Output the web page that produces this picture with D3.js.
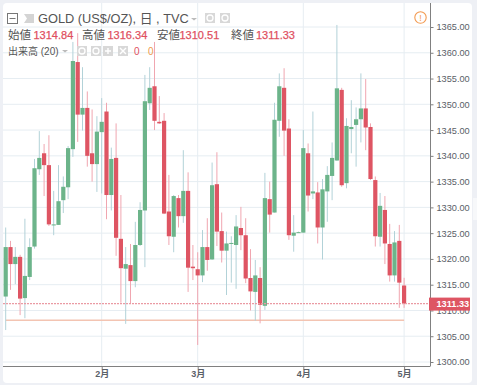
<!DOCTYPE html>
<html>
<head>
<meta charset="utf-8">
<script src="https://cdn.jsdelivr.net/npm/d3@7"></script>
<style>
  html, body { margin: 0; padding: 0; background: #eef0f5; }
  svg { display: block; }
  text { font-family: "Liberation Sans", Arial, "Noto Sans CJK JP", sans-serif; }
</style>
</head>
<body>
<svg id="chart"></svg>
<script>
// daily candles
const opens = [1312.7,1322.3,1319,1320.4,1312.4,1316.5,1322.4,1337.4,1340.5,1338.2,1326.5,1326.6,1331.4,1333.9,1341.3,1358.2,1348,1349.3,1340.5,1338.4,1344.6,1348.6,1332.4,1339.6,1323.9,1318.1,1318.8,1315.7,1322.7,1329.4,1350.2,1353.5,1346.6,1346.8,1329.2,1324.3,1331.8,1328.3,1333.2,1318.5,1318,1316.8,1322.3,1319.9,1334.5,1325.4,1321.6,1322.9,1322.7,1326,1324.6,1316.3,1313.6,1316.3,1310.9,1331.6,1329,1346.8,1353.2,1345.3,1324.5,1325.1,1325.1,1340.5,1332.7,1332.9,1326.1,1333.1,1336.1,1339.1,1352.8,1334.7,1345.2,1346,1347.1,1349.2,1345.6,1335.3,1324.3,1329.5,1322.9,1316.8,1323.5,1314.84];
const closes = [1322.3,1319,1320.4,1312.3,1316.7,1322.3,1337.6,1339.6,1338.2,1326.7,1326.7,1331.2,1334,1341.5,1358.4,1348,1349.3,1340,1338.4,1344.7,1346.6,1332.4,1339.4,1324.1,1318.2,1319,1315.7,1322.7,1329.5,1350.6,1353.2,1346.8,1346.3,1328.8,1324.4,1332.2,1328.3,1333.2,1318.3,1318.2,1316.8,1322.3,1319.8,1334.3,1325.3,1321.6,1323,1323.1,1326.3,1324.6,1316.2,1313.7,1316.8,1311.1,1331.8,1328.6,1347,1353.5,1344.9,1324.6,1325.1,1325.2,1341.5,1332.3,1333.1,1326.1,1333.5,1336.3,1339.6,1353.1,1334.3,1345.8,1345.6,1347.1,1349.2,1345.5,1335.5,1324.4,1330.3,1323,1316.8,1323.2,1315.4,1311.33];
const highs = [1326.1,1323.5,1322.3,1320.8,1327.8,1324,1339.4,1344.8,1342.3,1344,1333.2,1338.2,1336,1341.9,1362.1,1363.8,1357.2,1352.5,1349,1347.7,1351.2,1350.3,1341.6,1346.3,1332.4,1322.3,1322.9,1327.2,1331,1355.7,1357.2,1362.1,1351.6,1348.3,1336.3,1332.4,1332.4,1341.1,1336.8,1322.7,1321.3,1325.6,1327.9,1338.7,1340.7,1329,1325.3,1324.4,1328.5,1330.1,1327.9,1321.9,1319.8,1318.4,1336.7,1335,1350.3,1356,1357,1347.1,1328.5,1325.3,1345,1342.4,1348.6,1334.9,1335.5,1338,1342.6,1365.4,1353.2,1347.3,1350.8,1349.4,1356,1354.9,1346.3,1336,1332.8,1332.2,1326.8,1325.4,1326.6,1316.34];
const lows = [1306.2,1314,1315.1,1309.1,1308.5,1315.9,1322,1336.3,1332.2,1326.4,1324.6,1326.6,1328.9,1331.6,1339.8,1342.7,1344.9,1337.9,1335,1333,1332.7,1327.7,1329.4,1320.6,1311.5,1307.4,1311.4,1314.5,1322.5,1318.4,1348.9,1345,1346.2,1328.7,1322.7,1321.3,1326.1,1327,1313.6,1315.9,1303.3,1315.5,1317.7,1319.8,1322.5,1319.3,1313,1315.4,1314.2,1321.7,1315.3,1310,1308,1307.5,1310.1,1325.1,1329,1343.7,1340,1323.7,1321.4,1325.1,1325.1,1329.2,1331.6,1323,1319.9,1327.2,1331.4,1339,1334,1333.7,1340.5,1337.9,1342.6,1341.1,1335.3,1322.4,1322.4,1319,1315.6,1315.6,1310.5,1310.51];

const priceTicks = [1300,1305,1310,1315,1320,1325,1330,1335,1340,1345,1350,1355,1360,1365];
const monthLabels = ["2月","3月","4月","5月"];
const monthIndex = [20,40,62,83];
const lastPrice = 1311.33;
const volumeLevel = 1308.1;

const ohlcLabels = ["始値","高値","安値","終値"];
const ohlcValues = ["1314.84","1316.34","1310.51","1311.33"];

const width = 477, height = 385;
const plot = { left: 3, right: 430, top: 3, bottom: 366 };

const green = "#6cb48a", red = "#de5563";
const greenWick = "#b2d2d8", redWick = "#f0a6b0";

const svg = d3.select("#chart").attr("width", width).attr("height", height);

svg.append("rect")
  .attr("x", 3).attr("y", 3).attr("width", 469).attr("height", 380).attr("rx", 4)
  .attr("fill", "#fff");

// the little scroll handle at the right edge of the page
svg.append("rect").attr("x", 473).attr("y", 198).attr("width", 4).attr("height", 22).attr("fill", "#f7f8fa");

const x = d3.scaleLinear().domain([0, 83]).range([5.7, 404.1]);
const y = d3.scaleLinear().domain([1300, 1365]).range([362, 27]);

// grid
svg.append("g").selectAll("line").data(priceTicks).join("line")
  .attr("x1", plot.left).attr("x2", plot.right)
  .attr("y1", d => y(d)).attr("y2", d => y(d))
  .attr("stroke", "#e6edf2").attr("stroke-width", 1);
svg.append("g").selectAll("line").data(monthIndex).join("line")
  .attr("x1", d => x(d)).attr("x2", d => x(d))
  .attr("y1", plot.top).attr("y2", plot.bottom)
  .attr("stroke", "#e6edf2").attr("stroke-width", 1);

// volume MA sits at the bottom of the pane, looks like a flat line
svg.append("line")
  .attr("x1", x(0)).attr("x2", x(83))
  .attr("y1", y(volumeLevel)).attr("y2", y(volumeLevel))
  .attr("stroke", "#f3c4b2").attr("stroke-width", 1.6);

// candles
const idx = d3.range(opens.length);
svg.append("g").selectAll("line").data(idx).join("line")
  .attr("x1", i => x(i)).attr("x2", i => x(i))
  .attr("y1", i => y(highs[i])).attr("y2", i => y(lows[i]))
  .attr("stroke", i => closes[i] >= opens[i] ? greenWick : redWick);
svg.append("g").selectAll("rect").data(idx).join("rect")
  .attr("x", i => x(i) - 2.1)
  .attr("width", 4.2)
  .attr("y", i => y(Math.max(opens[i], closes[i])))
  .attr("height", i => Math.max(1, Math.abs(y(opens[i]) - y(closes[i]))))
  .attr("fill", i => closes[i] >= opens[i] ? green : red);

// last price line
svg.append("line")
  .attr("x1", plot.left).attr("x2", plot.right)
  .attr("y1", y(lastPrice)).attr("y2", y(lastPrice))
  .attr("stroke", "#ea9aa3").attr("stroke-width", 1.3).attr("stroke-dasharray", "2,1");

// axes
const yAxis = svg.append("g")
  .attr("transform", `translate(${plot.right + 0.5},0)`)
  .call(d3.axisRight(y).tickValues(priceTicks).tickFormat(d => d.toFixed(2)).tickSize(3).tickPadding(3));
yAxis.selectAll("text").attr("font-size", 9.2).attr("fill", "#5a6068");
yAxis.selectAll("line").attr("stroke", "#808080");
yAxis.select(".domain").attr("stroke", "#808080").attr("d", `M0,${plot.top}V${plot.bottom + 0.5}`);

const xAxis = svg.append("g")
  .attr("transform", `translate(0,${plot.bottom + 0.5})`)
  .call(d3.axisBottom(x).tickValues(monthIndex).tickFormat((d, i) => monthLabels[i]).tickSize(3).tickPadding(1));
xAxis.selectAll("text").attr("font-size", 9).attr("font-weight", "bold").attr("fill", "#5a6068");
xAxis.selectAll("line").attr("stroke", "#808080");
xAxis.select(".domain").attr("stroke", "#808080").attr("d", `M${plot.left},0H${plot.right}`);

// last price tag, it covers part of the 1310 label like in the original
svg.append("rect")
  .attr("x", plot.right - 1).attr("y", y(lastPrice) - 6)
  .attr("width", 41).attr("height", 13)
  .attr("fill", red);
svg.append("text")
  .attr("x", plot.right + 6.5).attr("y", y(lastPrice) + 3.5)
  .attr("font-size", 9.2).attr("font-weight", "bold").attr("fill", "#fff")
  .text(lastPrice.toFixed(2));

// title row
svg.append("rect").attr("x", 7.5).attr("y", 13.5).attr("width", 10).attr("height", 10)
  .attr("fill", "none").attr("stroke", "#777");
svg.append("line").attr("x1", 9.5).attr("x2", 15.5).attr("y1", 18.5).attr("y2", 18.5).attr("stroke", "#777");
svg.append("path").attr("d", "M24,14H34V23H24L27,18.5Z").attr("fill", "#d4d4d4");
svg.append("text").attr("x", 38).attr("y", 23)
  .attr("font-size", 12.8).attr("fill", "#555")
  .text("GOLD (US$/OZ), 日 , TVC");
svg.append("path").attr("d", "M191,18h6l-3,2.5z").attr("fill", "#bbb");

// small grey indicator buttons
function button(bx, by, kind) {
  svg.append("rect").attr("x", bx).attr("y", by).attr("width", 10).attr("height", 10).attr("fill", "#d8d8d8");
  if (kind == "plus") {
    svg.append("path").attr("d", `M${bx + 5},${by + 2}v6M${bx + 2},${by + 5}h6`).attr("stroke", "#fff").attr("stroke-width", 1.4);
  } else if (kind == "cross") {
    svg.append("path").attr("d", `M${bx + 2},${by + 2}l6,6M${bx + 8},${by + 2}l-6,6`).attr("stroke", "#fff").attr("stroke-width", 1.4);
  } else {
    svg.append("circle").attr("cx", bx + 5).attr("cy", by + 5).attr("r", 3).attr("fill", "none").attr("stroke", "#fff").attr("stroke-width", 1.3);
  }
}
button(205, 13);
button(220, 13);
button(77, 46);
button(91, 46);
button(103, 46, "plus");
button(118, 46, "cross");

// OHLC row
const labelX = [8, 82, 157, 231];
const valueX = [33.5, 107.5, 179.5, 256];
svg.append("g").selectAll("text").data(ohlcLabels).join("text")
  .attr("x", (d, i) => labelX[i]).attr("y", 39)
  .attr("font-size", 11.5).attr("fill", "#555")
  .text(d => d);
svg.append("g").selectAll("text").data(ohlcValues).join("text")
  .attr("x", (d, i) => valueX[i]).attr("y", 39)
  .attr("font-size", 11).attr("fill", "#e0505f")
  .attr("stroke", "#e0505f").attr("stroke-width", 0.25)
  .text(d => d);

// volume row
svg.append("text").attr("x", 8).attr("y", 55).attr("font-size", 10).attr("fill", "#555").text("出来高 (20)");
svg.append("path").attr("d", "M62,50h6l-3,2.5z").attr("fill", "#bbb");
svg.append("text").attr("x", 134).attr("y", 55).attr("font-size", 10).attr("fill", "#e0505f").text("0");
svg.append("text").attr("x", 148).attr("y", 55).attr("font-size", 10).attr("fill", "#f09a4c").text("0");

// warning icon, top right
svg.append("circle").attr("cx", 420.5).attr("cy", 17.5).attr("r", 5.7)
  .attr("fill", "none").attr("stroke", "#f39a50").attr("stroke-width", 1.1);
svg.append("text").attr("x", 420.5).attr("y", 21).attr("text-anchor", "middle")
  .attr("font-size", 9).attr("fill", "#f39a50").text("!");
</script>
</body>
</html>
